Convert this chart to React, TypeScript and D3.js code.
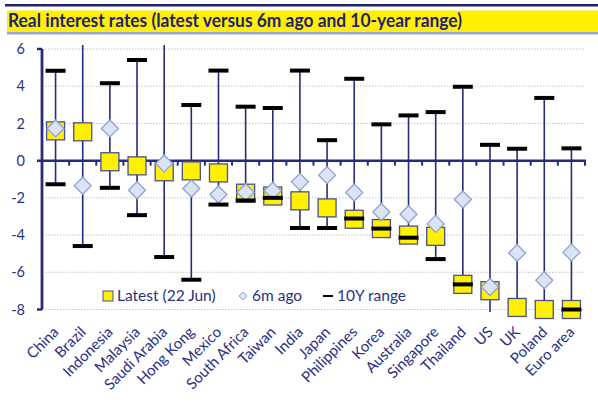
import React from "react";
import * as d3 from "d3";

const categories = ["China","Brazil","Indonesia","Malaysia","Saudi Arabia","Hong Kong","Mexico","South Africa","Taiwan","India","Japan","Philippines","Korea","Australia","Singapore","Thailand","US","UK","Poland","Euro area"];
const latest = [1.6, 1.55, -0.06, -0.28, -0.6, -0.55, -0.66, -1.75, -1.9, -2.16, -2.54, -3.15, -3.65, -4.0, -4.07, -6.65, -6.99, -7.89, -8.0, -8.0];
const sixMonthsAgo = [1.73, -1.35, 1.73, -1.59, -0.15, -1.5, -1.82, -1.7, -1.62, -1.14, -0.78, -1.71, -2.76, -2.88, -3.4, -2.09, -6.79, -4.96, -6.43, -4.93];
const rangeHigh = [4.83, 7, 4.16, 5.41, 7, 2.99, 4.84, 2.9, 2.83, 4.84, 1.1, 4.4, 1.95, 2.43, 2.61, 3.97, 0.85, 0.64, 3.37, 0.66];
const rangeLow = [-1.27, -4.59, -1.46, -2.93, -5.18, -6.4, -2.36, -2.14, -2.0, -3.62, -3.62, -3.11, -3.65, -4.14, -5.29, -6.65, -8.3, -8.5, -8.5, -8.0];
const yTicks = [6, 4, 2, 0, -2, -4, -6, -8];
const title = "Real interest rates (latest versus 6m ago and 10-year range)";
const legendLabels = ["Latest (22 Jun)", "6m ago", "10Y range"];

const NAVY = "#272b7c";
const TEXT = "#2b2f85";
const YELLOW = "#fff000";
const FONT = "Lato, 'Open Sans', sans-serif";

export default function App() {
  const left = 42, right = 585, top = 49, bottom = 309.5;
  const x = d3.scaleBand<string>().domain(categories).range([left, right]);
  const y = d3.scaleLinear().domain([-8, 6]).range([bottom, top]);
  const bw = x.bandwidth();
  const cx = (i: number) => (x(categories[i]) as number) + bw / 2;
  const sq = 18;
  const dm = 8.5;
  const capW = 20;

  return (
    <div style={{ position: "absolute", left: 0, top: 0 }}>
      <svg width={598} height={403} style={{ display: "block", background: "#fff" }} fontFamily={FONT}>
        <defs>
          <clipPath id="plotclip">
            <rect x={0} y={top - 4} width={598} height={bottom - top + 6.5} />
          </clipPath>
        </defs>
        {/* Title band */}
        <rect x={5} y={4} width={593} height={2.5} fill="#1f2370" />
        <rect x={7} y={10.5} width={591} height={21.5} fill={YELLOW} />
        <rect x={7} y={32} width={591} height={2.5} fill="#9aa6cf" />
        <text x={8} y={27} fontSize={18} fontWeight={700} fill="#1f2370" textLength={454} lengthAdjust="spacingAndGlyphs">{title}</text>

        {/* gridlines */}
        {yTicks.filter(t => t !== 0).map(t => (
          <line key={t} x1={left} x2={right} y1={y(t)} y2={y(t)} stroke="#c4c4c4" strokeWidth={1} strokeDasharray="1.5,1.5" />
        ))}
        {/* y tick labels */}
        {yTicks.map(t => (
          <text key={t} x={25} y={y(t)} dy="0.35em" textAnchor="end" fontSize={14.5} fill={TEXT}>{t}</text>
        ))}

        {/* legend */}
        <g>
          <rect x={103} y={291} width={10} height={10} fill={YELLOW} stroke="#4b4f8c" strokeWidth={1} />
          <text x={117} y={296} dy="0.35em" fontSize={15.5} fill={TEXT}>{legendLabels[0]}</text>
          <path d={`M243,292 L247,296 L243,300 L239,296 Z`} fill="#dbe3f5" stroke="#8ea2d4" strokeWidth={1} />
          <text x={252} y={296} dy="0.35em" fontSize={15.5} fill={TEXT}>{legendLabels[1]}</text>
          <line x1={323} x2={333} y1={296} y2={296} stroke="#000" strokeWidth={2} />
          <text x={337} y={296} dy="0.35em" fontSize={15.5} fill={TEXT}>{legendLabels[2]}</text>
        </g>

        {/* range lines */}
        <g clipPath="url(#plotclip)">
          {categories.map((c, i) => (
            <line key={c} x1={cx(i)} x2={cx(i)} y1={y(rangeHigh[i])} y2={y(rangeLow[i])} stroke={NAVY} strokeWidth={1.6} />
          ))}
        </g>

        {/* zero axis */}
        <line x1={37} x2={right + 1} y1={y(0)} y2={y(0)} stroke={NAVY} strokeWidth={2.5} />
        {categories.map((c, i) => (
          <line key={c} x1={(x(c) as number) + bw} x2={(x(c) as number) + bw} y1={y(0)} y2={y(0) + 5} stroke={NAVY} strokeWidth={2} />
        ))}
        {/* y axis */}
        <line x1={left} x2={left} y1={top} y2={bottom} stroke={NAVY} strokeWidth={2.8} />
        <line x1={left - 5} x2={left} y1={top} y2={top} stroke={NAVY} strokeWidth={2.5} />
        <line x1={left - 5} x2={left} y1={bottom} y2={bottom} stroke={NAVY} strokeWidth={2.5} />

        {/* latest squares */}
        {categories.map((c, i) => (
          <rect key={c} x={cx(i) - sq / 2} y={y(latest[i]) - sq / 2} width={sq} height={sq} fill={YELLOW} stroke="#4b4f8c" strokeWidth={1.3} />
        ))}
        {/* 6m ago diamonds */}
        {categories.map((c, i) => {
          const px = cx(i), py = y(sixMonthsAgo[i]);
          return <path key={c} d={`M${px},${py - dm} L${px + dm},${py} L${px},${py + dm} L${px - dm},${py} Z`} fill="#dbe3f5" stroke="#8ea2d4" strokeWidth={1.3} />;
        })}
        {/* range caps */}
        <g clipPath="url(#plotclip)">
          {categories.map((c, i) => (
            <g key={c}>
              <line x1={cx(i) - capW / 2} x2={cx(i) + capW / 2} y1={y(rangeHigh[i])} y2={y(rangeHigh[i])} stroke="#000" strokeWidth={4} />
              <line x1={cx(i) - capW / 2} x2={cx(i) + capW / 2} y1={y(rangeLow[i])} y2={y(rangeLow[i])} stroke="#000" strokeWidth={4} />
            </g>
          ))}
        </g>

        {/* x labels */}
        {categories.map((c, i) => (
          <text key={c} transform={`translate(${cx(i) + 4},${333}) rotate(-45)`} textAnchor="end" fontSize={15} fill={TEXT}>{c}</text>
        ))}
      </svg>
    </div>
  );
}
